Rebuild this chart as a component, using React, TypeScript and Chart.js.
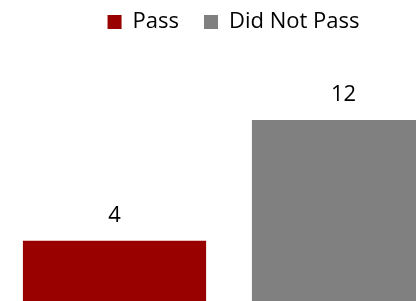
import React, { useEffect, useRef } from "react";
import { Chart, registerables } from "chart.js";

Chart.register(...registerables);

const categories = [""];
const seriesNames = ["Pass", "Did Not Pass"];
const passValues = [4];
const didNotPassValues = [12];
const seriesColors = ["#990000", "#808080"];

const FONT = "'Open Sans', sans-serif";

const valueLabels = {
  id: "valueLabels",
  afterDatasetsDraw(chart: any) {
    const ctx = chart.ctx;
    ctx.save();
    ctx.font = `22px ${FONT}`;
    ctx.fillStyle = "#000000";
    ctx.textAlign = "center";
    ctx.textBaseline = "alphabetic";
    chart.data.datasets.forEach((ds: any, i: number) => {
      const meta = chart.getDatasetMeta(i);
      meta.data.forEach((el: any, j: number) => {
        ctx.fillText(String(ds.data[j]), el.x, el.y - 19);
      });
    });
    ctx.restore();
  },
};

export default function App() {
  const ref = useRef<HTMLCanvasElement>(null);
  useEffect(() => {
    const chart = new Chart(ref.current!, {
      type: "bar",
      data: {
        labels: categories,
        datasets: [
          { label: seriesNames[0], data: passValues, backgroundColor: seriesColors[0] },
          { label: seriesNames[1], data: didNotPassValues, backgroundColor: seriesColors[1] },
        ],
      },
      options: {
        responsive: false,
        animation: false,
        layout: { padding: { top: -14, left: 0, right: 0, bottom: 0 } },
        datasets: { bar: { categoryPercentage: 1, barPercentage: 0.8 } },
        scales: {
          x: { display: false },
          y: {
            display: true,
            position: "right",
            min: 0,
            max: 17.1,
            grid: { display: false },
            border: { display: false },
            ticks: { display: false },
            afterFit: (axis: any) => {
              axis.width = 9;
            },
          },
        },
        plugins: {
          tooltip: { enabled: false },
          legend: {
            position: "top",
            labels: {
              font: { family: FONT, size: 22 },
              color: "#000000",
              boxWidth: 14,
              boxHeight: 14,
              padding: 25,
            },
          },
        },
      },
      plugins: [valueLabels],
    });
    return () => chart.destroy();
  }, []);
  return (
    <div style={{ position: "fixed", left: 0, top: 0, width: 416, height: 301, overflow: "hidden", background: "#fff" }}>
      <canvas ref={ref} width={467} height={301} style={{ width: 467, height: 301, display: "block" }} />
    </div>
  );
}
